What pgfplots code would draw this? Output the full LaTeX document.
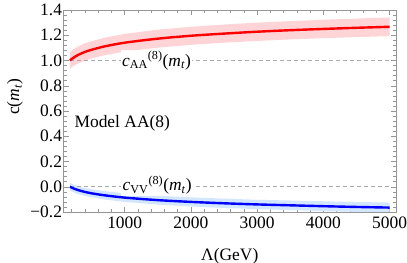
\documentclass[border=0pt]{standalone}
\usepackage{fontspec}
\setmainfont{Liberation Serif}
\usepackage{pgfplots}
\pgfplotsset{compat=1.18}
\usepgfplotslibrary{fillbetween}
\definecolor{bandred}{RGB}{255,212,214}
\definecolor{bandblue}{RGB}{210,230,255}
\definecolor{framegray}{RGB}{150,150,150}
\begin{document}
\begin{tikzpicture}
\begin{axis}[
  scale only axis, width=332.5bp, height=202bp,
  xmin=76, xmax=5097, ymin=-0.2, ymax=1.4,
  axis line style={framegray, line width=0.6pt},
  xtick={1000,2000,3000,4000,5000},
  xticklabels={1000,2000,3000,4000,5000},
  minor xtick={200,400,...,5000},
  ytick={-0.2,0,0.2,0.4,0.6,0.8,1.0,1.2,1.4},
  yticklabels={−0.2,0.0,0.2,0.4,0.6,0.8,1.0,1.2,1.4},
  minor ytick={-0.16,-0.12,-0.08,-0.04,0.04,0.08,0.12,0.16,0.24,0.28,0.32,0.36,0.44,0.48,0.52,0.56,0.64,0.68,0.72,0.76,0.84,0.88,0.92,0.96,1.04,1.08,1.12,1.16,1.24,1.28,1.32,1.36},
  tick align=inside, tick pos=both,
  major tick length=5bp, minor tick length=3bp,
  every tick/.style={framegray, line width=0.5pt},
  ticklabel style={font=\fontsize{17.5}{20}\selectfont, text=black},
  xticklabel style={yshift=-1bp},
  yticklabel style={xshift=2bp},
  xlabel={Λ(GeV)},
  xlabel style={at={(axis description cs:0.5,0)}, anchor=center, yshift=-44bp, font=\fontsize{17.5}{20}\selectfont},
  ylabel={c(\textit{m}\textsubscript{\textit{t}})},
  ylabel style={at={(axis description cs:-0.146,0.57)}, anchor=center, font=\fontsize{17.5}{20}\selectfont},
  clip=true,
]
% red band
\addplot[name path=rup, draw=none] coordinates {
 (173,1.066) (200,1.078) (250,1.097) (300,1.112) (400,1.136) (500,1.153) (700,1.181) (1000,1.211) (1500,1.244) (2000,1.267) (2500,1.285) (3000,1.300) (3500,1.312) (4000,1.323) (4500,1.332) (5000,1.341)};
\addplot[name path=rlo, draw=none] coordinates {
 (173,0.934) (200,0.946) (250,0.964) (300,0.977) (400,0.999) (500,1.016) (700,1.042) (1000,1.071) (1500,1.102) (2000,1.124) (2500,1.141) (3000,1.155) (3500,1.167) (4000,1.177) (4500,1.185) (5000,1.193)};
\addplot[bandred, draw=none] fill between[of=rup and rlo];
% blue band
\addplot[name path=bup, draw=none] coordinates {
 (173,0.030) (200,0.023) (250,0.013) (300,0.004) (400,-0.010) (500,-0.020) (700,-0.035) (1000,-0.052) (1500,-0.071) (2000,-0.084) (2500,-0.094) (3000,-0.103) (3500,-0.109) (4000,-0.115) (4500,-0.121) (5000,-0.125)};
\addplot[name path=blo, draw=none] coordinates {
 (173,-0.030) (200,-0.037) (250,-0.049) (300,-0.058) (400,-0.072) (500,-0.084) (700,-0.101) (1000,-0.120) (1500,-0.141) (2000,-0.156) (2500,-0.168) (3000,-0.177) (3500,-0.185) (4000,-0.193) (4500,-0.199) (5000,-0.205)};
\addplot[bandblue, draw=none] fill between[of=bup and blo];
% dashed reference lines
\addplot[framegray!80, dash pattern=on 4bp off 3bp, line width=0.6pt] coordinates {(173,1.0) (5000,1.0)};
\addplot[framegray!80, dash pattern=on 4bp off 3bp, line width=0.6pt] coordinates {(173,0.0) (5000,0.0)};
% central curves
\addplot[red, line width=2.4bp, smooth] coordinates {
 (173,1.000) (200,1.012) (250,1.030) (300,1.045) (400,1.068) (500,1.085) (700,1.112) (1000,1.141) (1500,1.173) (2000,1.196) (2500,1.213) (3000,1.228) (3500,1.240) (4000,1.250) (4500,1.259) (5000,1.267)};
\addplot[blue, line width=2.4bp, smooth] coordinates {
 (173,0.000) (200,-0.007) (250,-0.018) (300,-0.027) (400,-0.041) (500,-0.052) (700,-0.068) (1000,-0.086) (1500,-0.106) (2000,-0.120) (2500,-0.131) (3000,-0.140) (3500,-0.147) (4000,-0.154) (4500,-0.160) (5000,-0.165)};
% labels
\node[fill=white, inner sep=1.5bp, font=\fontsize{17.5}{20}\selectfont] at (axis cs:1480,1.0) {\textit{c}\textsubscript{AA}\textsuperscript{(8)}(\textit{m}\textsubscript{\textit{t}})};
\node[fill=white, inner sep=1.5bp, font=\fontsize{17.5}{20}\selectfont] at (axis cs:1490,0.01) {\textit{c}\textsubscript{VV}\textsuperscript{(8)}(\textit{m}\textsubscript{\textit{t}})};
\node[anchor=west, inner sep=0pt, font=\fontsize{17.5}{20}\selectfont] at (axis cs:240,0.5) {Model AA(8)};
\end{axis}
\pgfresetboundingbox
\path[use as bounding box] (-63.5bp,-51bp) rectangle (343.5bp,212bp);
\end{tikzpicture}
\end{document}
